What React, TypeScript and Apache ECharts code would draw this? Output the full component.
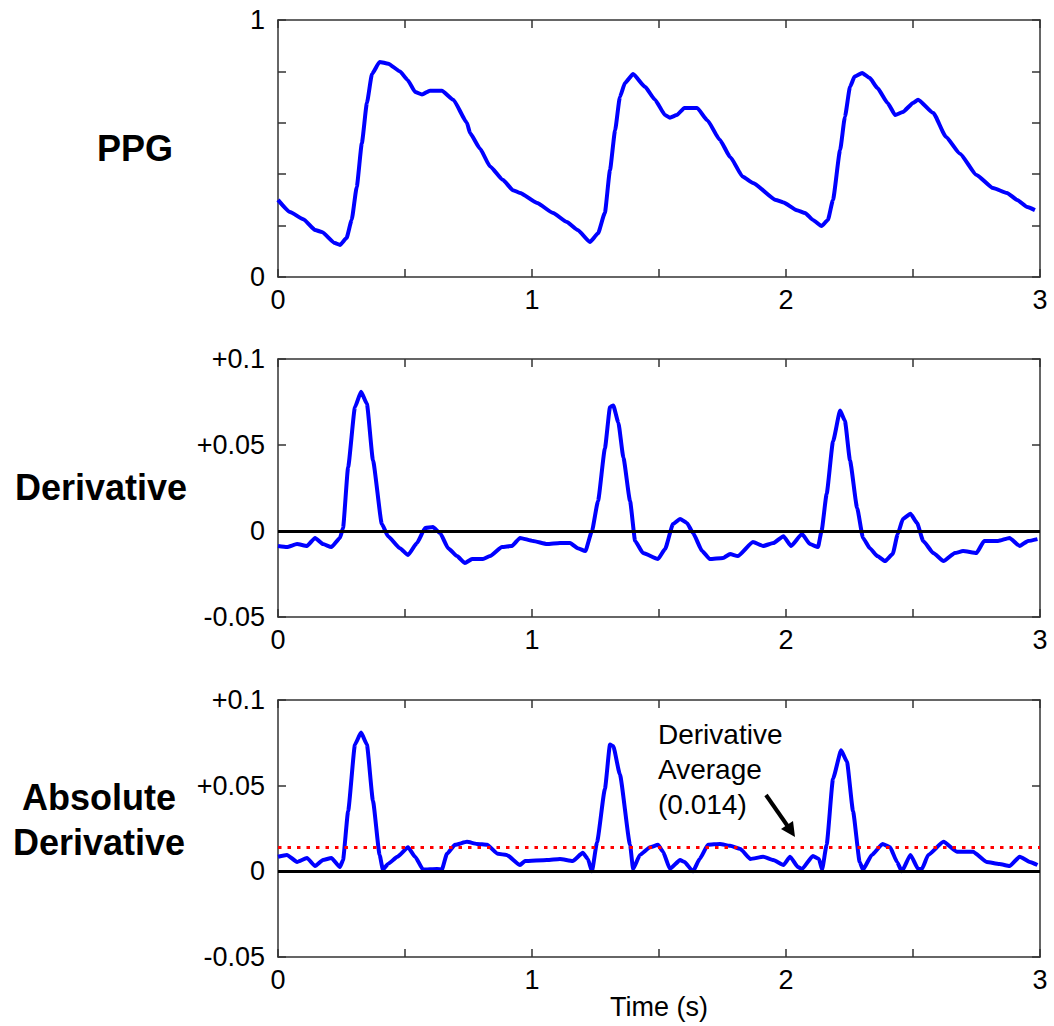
import React, { useEffect, useRef } from "react";
import * as echarts from "echarts";

// ---------- data ----------
const ppgTime = [
  0, 0.047, 0.1, 0.146, 0.173, 0.224, 0.244, 0.27, 0.29, 0.31,
  0.33, 0.35, 0.37, 0.4, 0.434, 0.48, 0.51, 0.54, 0.567, 0.598,
  0.645, 0.69, 0.744, 0.756, 0.795, 0.835, 0.886, 0.925, 0.953, 1.02,
  1.083, 1.137, 1.18, 1.228, 1.26, 1.287, 1.307, 1.327, 1.346, 1.366,
  1.398, 1.445, 1.484, 1.524, 1.543, 1.57, 1.6, 1.65, 1.69, 1.74,
  1.78, 1.83, 1.87, 1.96, 1.99, 2.043, 2.075, 2.106, 2.14, 2.165,
  2.185, 2.213, 2.232, 2.252, 2.27, 2.3, 2.33, 2.36, 2.4, 2.43,
  2.46, 2.5, 2.52, 2.58, 2.63, 2.685, 2.75, 2.815, 2.87, 2.91,
  2.95, 2.98,
];
const ppgValue = [
  0.3, 0.253, 0.225, 0.183, 0.175, 0.132, 0.125, 0.152, 0.222, 0.35,
  0.52, 0.677, 0.79, 0.837, 0.83, 0.8, 0.767, 0.72, 0.71, 0.725,
  0.725, 0.69, 0.6, 0.56, 0.5, 0.43, 0.377, 0.338, 0.327, 0.288,
  0.249, 0.214, 0.183, 0.136, 0.17, 0.25, 0.416, 0.57, 0.7, 0.755,
  0.79, 0.74, 0.69, 0.63, 0.62, 0.63, 0.658, 0.658, 0.61, 0.533,
  0.467, 0.39, 0.366, 0.3, 0.29, 0.26, 0.249, 0.222, 0.198, 0.222,
  0.3, 0.494, 0.623, 0.74, 0.78, 0.794, 0.774, 0.735, 0.677, 0.63,
  0.642, 0.677, 0.69, 0.638, 0.545, 0.48, 0.397, 0.346, 0.327, 0.3,
  0.272, 0.26,
];

const derivTime = [
  0, 0.035, 0.075, 0.114, 0.146, 0.177, 0.21, 0.244, 0.256, 0.276,
  0.303, 0.327, 0.35, 0.374, 0.409, 0.433, 0.48, 0.512, 0.547, 0.579,
  0.61, 0.638, 0.67, 0.705, 0.736, 0.764, 0.807, 0.835, 0.882, 0.921,
  0.953, 1.004, 1.059, 1.11, 1.15, 1.18, 1.21, 1.236, 1.26, 1.287,
  1.307, 1.32, 1.34, 1.36, 1.386, 1.406, 1.437, 1.496, 1.524, 1.555,
  1.583, 1.61, 1.634, 1.67, 1.7, 1.752, 1.78, 1.81, 1.87, 1.91,
  1.95, 1.99, 2.02, 2.063, 2.094, 2.126, 2.14, 2.16, 2.185, 2.213,
  2.232, 2.252, 2.28, 2.303, 2.33, 2.36, 2.39, 2.42, 2.44, 2.46,
  2.49, 2.516, 2.54, 2.58, 2.62, 2.665, 2.697, 2.75, 2.78, 2.835,
  2.88, 2.92, 2.953, 2.99,
];
const derivValue = [
  -0.0087, -0.0093, -0.0076, -0.0087, -0.004, -0.0076, -0.0093, -0.004, 0.0017, 0.037,
  0.072, 0.081, 0.074, 0.041, 0.004, -0.003, -0.01, -0.014, -0.007, 0.0017,
  0.0023, -0.0012, -0.01, -0.0146, -0.0186, -0.0163, -0.0163, -0.0146, -0.0093, -0.0087,
  -0.004, -0.0058, -0.0076, -0.007, -0.007, -0.01, -0.0117, 0, 0.0175, 0.048,
  0.072, 0.073, 0.063, 0.0425, 0.0175, -0.0058, -0.0128, -0.0163, -0.0105, 0.004,
  0.007, 0.0047, -0.0012, -0.0117, -0.0163, -0.0157, -0.0134, -0.0146, -0.0064, -0.0087,
  -0.007, -0.003, -0.0087, -0.0017, -0.0076, -0.0093, 0, 0.0215, 0.052, 0.07,
  0.064, 0.041, 0.0134, -0.004, -0.01, -0.0146, -0.0175, -0.0134, -0.0017, 0.007,
  0.01, 0.0047, -0.0058, -0.0128, -0.0175, -0.0128, -0.0117, -0.0128, -0.0058, -0.0058,
  -0.004, -0.0087, -0.0058, -0.0047,
];

const absTime = [
  0, 0.035, 0.075, 0.114, 0.146, 0.177, 0.21, 0.244, 0.256, 0.276,
  0.303, 0.327, 0.35, 0.374, 0.4, 0.413, 0.433, 0.47, 0.512, 0.54,
  0.571, 0.626, 0.645, 0.665, 0.697, 0.744, 0.783, 0.823, 0.866, 0.9,
  0.953, 0.972, 1.059, 1.11, 1.16, 1.2, 1.22, 1.236, 1.256, 1.287,
  1.307, 1.32, 1.346, 1.386, 1.398, 1.425, 1.465, 1.496, 1.516, 1.543,
  1.583, 1.6, 1.634, 1.66, 1.693, 1.74, 1.78, 1.82, 1.86, 1.91,
  1.95, 1.99, 2.016, 2.047, 2.063, 2.106, 2.13, 2.142, 2.16, 2.185,
  2.217, 2.24, 2.264, 2.29, 2.303, 2.338, 2.38, 2.41, 2.437, 2.456,
  2.49, 2.52, 2.535, 2.56, 2.62, 2.673, 2.736, 2.79, 2.84, 2.88,
  2.92, 2.96, 2.99,
];
const absValue = [
  0.0085, 0.0096, 0.0055, 0.0078, 0.0031, 0.0066, 0.0078, 0.0025, 0.0066, 0.035,
  0.074, 0.081, 0.074, 0.041, 0.0096, 0.001, 0.0043, 0.0085, 0.014, 0.0085,
  0.001, 0.0014, 0.001, 0.0102, 0.0155, 0.0172, 0.016, 0.0155, 0.0102, 0.0096,
  0.0037, 0.006, 0.0066, 0.0072, 0.006, 0.0108, 0.0072, 0, 0.017, 0.048,
  0.074, 0.073, 0.0566, 0.0155, 0.0014, 0.0096, 0.014, 0.0155, 0.0114, 0.0014,
  0.0066, 0.0055, 0, 0.0072, 0.0155, 0.016, 0.0149, 0.0131, 0.0072, 0.0085,
  0.0066, 0.0037, 0.0085, 0.0025, 0.0014, 0.009, 0.0072, 0.001, 0.0155, 0.054,
  0.0707, 0.064, 0.035, 0.0055, 0.001, 0.0096, 0.016, 0.014, 0.0055, 0,
  0.0096, 0.0014, 0.0014, 0.0096, 0.0172, 0.0114, 0.0114, 0.0055, 0.0043, 0.0031,
  0.0085, 0.0055, 0.0037,
];

const derivativeAverage = 0.014;
const rowLabels = ["PPG", "Derivative", "Absolute\nDerivative"];
const annotationText = "Derivative\nAverage\n(0.014)";
const xAxisTitle = "Time (s)";

// ---------- helpers ----------
const FONT = '"Liberation Sans", Arial, Helvetica, sans-serif';
const AXIS_COLOR = "#333";
const BLUE = "#0000ff";

function pairs(t: number[], v: number[]) {
  const n = Math.min(t.length, v.length);
  const out: number[][] = [];
  for (let i = 0; i < n; i++) out.push([t[i], v[i]]);
  return out;
}

const xFmt = (v: number) => {
  const r = Math.round(v * 10) / 10;
  return r % 1 === 0 ? String(r) : "";
};
const ppgYFmt = (v: number) => {
  const r = Math.round(v * 10) / 10;
  return r === 0 || r === 1 ? String(r) : "";
};
const derivYFmt = (v: number) => {
  const r = Math.round(v * 100) / 100;
  if (r === 0) return "0";
  return r > 0 ? "+" + r : String(r);
};

const GRIDS = [
  { top: 20, height: 257 },
  { top: 359, height: 258 },
  { top: 700, height: 257 },
];

function makeXAxes(gi: number, withName: boolean) {
  const common: any = {
    type: "value",
    gridIndex: gi,
    min: 0,
    max: 3,
    interval: 0.5,
    splitLine: { show: false },
    axisLine: { show: true, onZero: false, lineStyle: { color: AXIS_COLOR, width: 1.5 } },
    axisTick: { show: true, inside: true, length: 8, lineStyle: { color: AXIS_COLOR, width: 1.5 } },
  };
  const bottom: any = {
    ...common,
    position: "bottom",
    axisLabel: { show: true, margin: 9, fontSize: 27, color: "#000", fontFamily: FONT, formatter: xFmt },
  };
  if (withName) {
    bottom.name = xAxisTitle;
    bottom.nameLocation = "middle";
    bottom.nameGap = 35;
    bottom.nameTextStyle = { fontSize: 27, color: "#000", fontFamily: FONT };
  }
  return [bottom, { ...common, position: "top", axisLabel: { show: false } }];
}

function makeYAxes(gi: number, min: number, max: number, interval: number, fmt: (v: number) => string) {
  const common: any = {
    type: "value",
    gridIndex: gi,
    min,
    max,
    interval,
    splitLine: { show: false },
    axisLine: { show: true, onZero: false, lineStyle: { color: AXIS_COLOR, width: 1.5 } },
    axisTick: { show: true, inside: true, length: 8, lineStyle: { color: AXIS_COLOR, width: 1.5 } },
  };
  return [
    {
      ...common,
      position: "left",
      axisLabel: { show: true, margin: 13, fontSize: 27, color: "#000", fontFamily: FONT, formatter: fmt },
    },
    { ...common, position: "right", axisLabel: { show: false } },
  ];
}

const zeroLine = {
  yAxis: 0,
  lineStyle: { color: "#000", width: 3, type: "solid" },
};

export default function App() {
  const ref = useRef<HTMLDivElement>(null);

  useEffect(() => {
    if (!ref.current) return;
    const chart = echarts.init(ref.current, undefined, { renderer: "svg" });

    const lineSeries = (name: string, axisIndex: number, data: number[][]) => ({
      name,
      type: "line",
      xAxisIndex: axisIndex,
      yAxisIndex: axisIndex,
      data,
      showSymbol: false,
      symbol: "none",
      smooth: 0.15,
      smoothMonotone: "x",
      lineStyle: { color: BLUE, width: 4 },
      z: 3,
    });

    const option: any = {
      animation: false,
      backgroundColor: "#ffffff",
      grid: GRIDS.map((g) => ({ left: 278, width: 762, top: g.top, height: g.height, containLabel: false })),
      xAxis: [...makeXAxes(0, false), ...makeXAxes(1, false), ...makeXAxes(2, true)],
      yAxis: [
        ...makeYAxes(0, 0, 1, 0.2, ppgYFmt),
        ...makeYAxes(1, -0.05, 0.1, 0.05, derivYFmt),
        ...makeYAxes(2, -0.05, 0.1, 0.05, derivYFmt),
      ],
      series: [
        lineSeries("PPG", 0, pairs(ppgTime, ppgValue)),
        {
          ...lineSeries("Derivative", 2, pairs(derivTime, derivValue)),
          markLine: {
            silent: true,
            precision: 4,
            symbol: ["none", "none"],
            label: { show: false },
            data: [zeroLine],
          },
        },
        {
          ...lineSeries("Absolute Derivative", 4, pairs(absTime, absValue)),
          markLine: {
            silent: true,
            precision: 4,
            symbol: ["none", "none"],
            label: { show: false },
            data: [
              zeroLine,
              { yAxis: derivativeAverage, lineStyle: { color: "#ff0000", width: 3, type: [3.5, 6] } },
            ],
          },
        },
      ],
      graphic: [
        {
          type: "text",
          x: 135,
          y: 148,
          style: { text: rowLabels[0], fontSize: 36, fontWeight: "bold", fontFamily: FONT, fill: "#000", textAlign: "center", textVerticalAlign: "middle" },
        },
        {
          type: "text",
          x: 101,
          y: 487,
          style: { text: rowLabels[1], fontSize: 36, fontWeight: "bold", fontFamily: FONT, fill: "#000", textAlign: "center", textVerticalAlign: "middle" },
        },
        {
          type: "text",
          x: 99,
          y: 820,
          style: { text: rowLabels[2], fontSize: 36, fontWeight: "bold", fontFamily: FONT, fill: "#000", textAlign: "center", textVerticalAlign: "middle", lineHeight: 45 },
        },
        {
          type: "text",
          x: 658,
          y: 717,
          style: { text: annotationText, fontSize: 28, fontFamily: FONT, fill: "#000", textAlign: "left", textVerticalAlign: "top", lineHeight: 35 },
        },
        {
          type: "line",
          shape: { x1: 766, y1: 795, x2: 789, y2: 828 },
          style: { stroke: "#000", lineWidth: 4 },
        },
        {
          type: "polygon",
          shape: { points: [[795, 837], [781, 829], [793, 821]] },
          style: { fill: "#000" },
        },
      ],
    };

    chart.setOption(option);
    return () => chart.dispose();
  }, []);

  return (
    <div
      ref={ref}
      style={{ position: "absolute", left: 0, top: 0, width: 1054, height: 1026, background: "#fff" }}
    />
  );
}
